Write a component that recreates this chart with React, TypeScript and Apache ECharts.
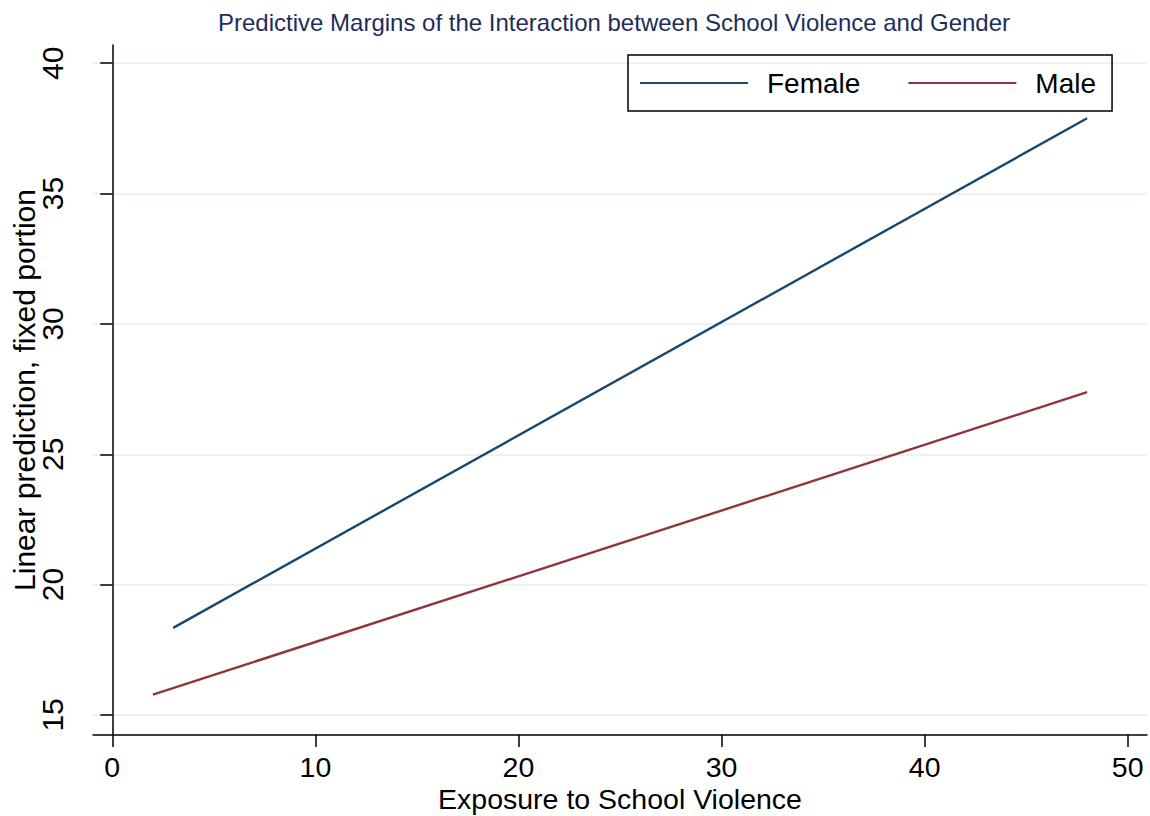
import React, { useEffect, useRef } from "react";
import * as echarts from "echarts";

const titleText = "Predictive Margins of the Interaction between School Violence and Gender";
const xAxisTitle = "Exposure to School Violence";
const yAxisTitle = "Linear prediction, fixed portion";
const xTicks = [0, 10, 20, 30, 40, 50];
const yTicks = [15, 20, 25, 30, 35, 40];
const seriesNames = ["Female", "Male"];
const femaleValues: [number, number][] = [
  [3, 18.34],
  [48, 37.89],
];
const maleValues: [number, number][] = [
  [2, 15.78],
  [48, 27.38],
];

const FONT = "'Liberation Sans', Arial, Helvetica, sans-serif";

export default function App() {
  const ref = useRef<HTMLDivElement>(null);

  useEffect(() => {
    document.body.style.margin = "0";
    if (!ref.current) return;
    const chart = echarts.init(ref.current, undefined, { renderer: "svg" });
    chart.setOption({
      animation: false,
      backgroundColor: "#ffffff",
      textStyle: { fontFamily: FONT },
      title: {
        text: titleText,
        left: 218,
        top: 10,
        padding: 0,
        textStyle: {
          fontFamily: FONT,
          fontSize: 24,
          fontWeight: "normal",
          color: "#1f2d5c",
        },
      },
      legend: {
        left: 628,
        top: 55,
        orient: "horizontal",
        padding: [14, 16, 14, 12],
        borderColor: "#000000",
        borderWidth: 1.5,
        icon: "rect",
        itemWidth: 108,
        itemHeight: 2.2,
        itemGap: 48,
        data: seriesNames,
        textStyle: {
          fontFamily: FONT,
          fontSize: 28,
          color: "#000000",
          padding: [0, 0, 0, 14],
        },
      },
      grid: {
        left: 93,
        right: 3,
        top: 45,
        bottom: 81,
        containLabel: false,
        outerBoundsMode: "none",
      },
      xAxis: {
        type: "value",
        min: -0.95,
        max: 50.95,
        name: xAxisTitle,
        nameLocation: "middle",
        nameGap: 51,
        nameMoveOverlap: false,
        nameTextStyle: { fontFamily: FONT, fontSize: 28.5, color: "#000000", lineHeight: 26 },
        axisLine: { show: true, lineStyle: { color: "#000000", width: 1.5 } },
        axisTick: {
          show: true,
          length: 12,
          customValues: xTicks,
          lineStyle: { color: "#000000", width: 1.5 },
        },
        axisLabel: {
          customValues: xTicks,
          margin: 19,
          lineHeight: 26,
          fontFamily: FONT,
          fontSize: 28.5,
          color: "#000000",
        },
        splitLine: { show: false },
      },
      yAxis: {
        type: "value",
        min: 14.23,
        max: 40.7,
        name: yAxisTitle,
        nameLocation: "middle",
        nameGap: 54,
        nameMoveOverlap: false,
        nameTextStyle: { fontFamily: FONT, fontSize: 30, color: "#000000" },
        axisLine: { show: true, lineStyle: { color: "#000000", width: 1.5 } },
        axisTick: {
          show: true,
          length: 12,
          customValues: yTicks,
          lineStyle: { color: "#000000", width: 1.5 },
        },
        axisLabel: {
          customValues: yTicks,
          margin: 26,
          rotate: 90,
          fontFamily: FONT,
          fontSize: 30,
          color: "#000000",
        },
        splitLine: {
          show: true,
          lineStyle: { color: "#eaf2f3", width: 2 },
        },
      },
      series: [
        {
          name: seriesNames[0],
          type: "line",
          data: femaleValues,
          symbol: "none",
          showSymbol: false,
          lineStyle: { color: "#1a476f", width: 2.4 },
          itemStyle: { color: "#1a476f" },
        },
        {
          name: seriesNames[1],
          type: "line",
          data: maleValues,
          symbol: "none",
          showSymbol: false,
          lineStyle: { color: "#90353b", width: 2.4 },
          itemStyle: { color: "#90353b" },
        },
      ],
    });
    return () => chart.dispose();
  }, []);

  return (
    <div
      ref={ref}
      style={{ position: "absolute", left: 0, top: 0, width: 1150, height: 816 }}
    />
  );
}
